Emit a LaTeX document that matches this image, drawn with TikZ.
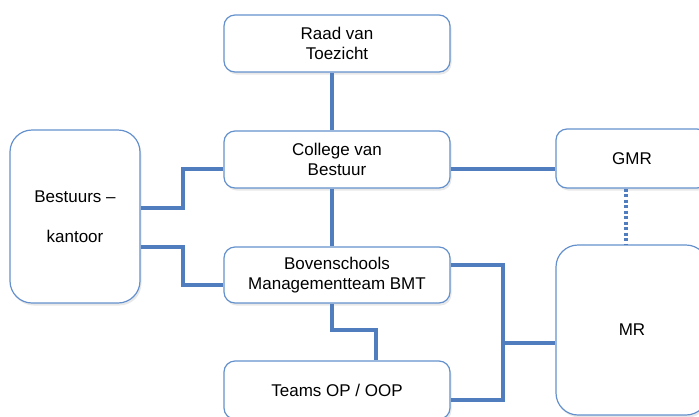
\documentclass[tikz,border=0pt]{standalone}
\usepackage{fontspec}
\setmainfont{Liberation Sans}
\usetikzlibrary{shadows}
\definecolor{boxc}{RGB}{100,145,205}
\definecolor{linec}{RGB}{79,125,190}
\tikzset{
  orgbox/.style={draw=boxc, line width=1.2pt, fill=white, rounded corners=11pt,
    align=center, inner sep=0pt, font=\fontsize{17}{19.5}\selectfont,
    drop shadow={opacity=0.18, shadow xshift=1.5pt, shadow yshift=-2.5pt}},
  bigbox/.style={orgbox, rounded corners=22pt},
  conn/.style={draw=linec, line width=3.8pt},
  dotconn/.style={draw=linec, line width=3.8pt, dash pattern=on 3pt off 2.5pt}
}
\begin{document}
\begin{tikzpicture}[x=1pt,y=-1pt]
\useasboundingbox (0,0) rectangle (699,416);
\clip (0,0) rectangle (699,416);
\node[orgbox, minimum width=226pt, minimum height=57pt] (raad) at (337,43.5) {Raad van\\Toezicht};
\node[orgbox, minimum width=226pt, minimum height=57pt] (college) at (337,159.5) {College van\\Bestuur};
\node[orgbox, minimum width=226pt, minimum height=56pt] (bmt) at (337,275) {Bovenschools\\Managementteam BMT};
\node[orgbox, minimum width=226pt, minimum height=58pt] (teams) at (337,390) {Teams OP / OOP};
\node[bigbox, minimum width=130pt, minimum height=173pt, font=\fontsize{17}{40}\selectfont] (bestuur) at (75,216.5) {Bestuurs –\\kantoor};
\node[orgbox, minimum width=152pt, minimum height=59pt] (gmr) at (632,158.5) {GMR};
\node[bigbox, minimum width=152pt, minimum height=170pt] (mr) at (632,330) {MR};
\draw[conn] ([xshift=-5pt]raad.south) -- ([xshift=-5pt]college.north);
\draw[conn] ([xshift=-5pt]college.south) -- ([xshift=-5pt]bmt.north);
\draw[conn] ([yshift=8.5pt]bestuur.east) -- ++(42,0) |- ([yshift=-9.5pt]college.west);
\draw[conn] ([yshift=-30.5pt]bestuur.east) -- ++(42,0) |- ([yshift=-10pt]bmt.west);
\draw[conn] ([yshift=-9.5pt]college.east) -- ([yshift=-10.5pt]gmr.west);
\draw[dotconn] ([xshift=-6pt]gmr.south) -- ([xshift=-6pt]mr.north);
\draw[conn] ([xshift=-5pt]bmt.south) -- ++(0,26) -| ([xshift=39pt]teams.north);
\draw[conn] ([yshift=10pt]bmt.east) -- ++(52,0) |- ([yshift=-10pt]teams.east);
\draw[conn] ([yshift=-13pt]mr.west) -- ++(-54,0);
\end{tikzpicture}
\end{document}
